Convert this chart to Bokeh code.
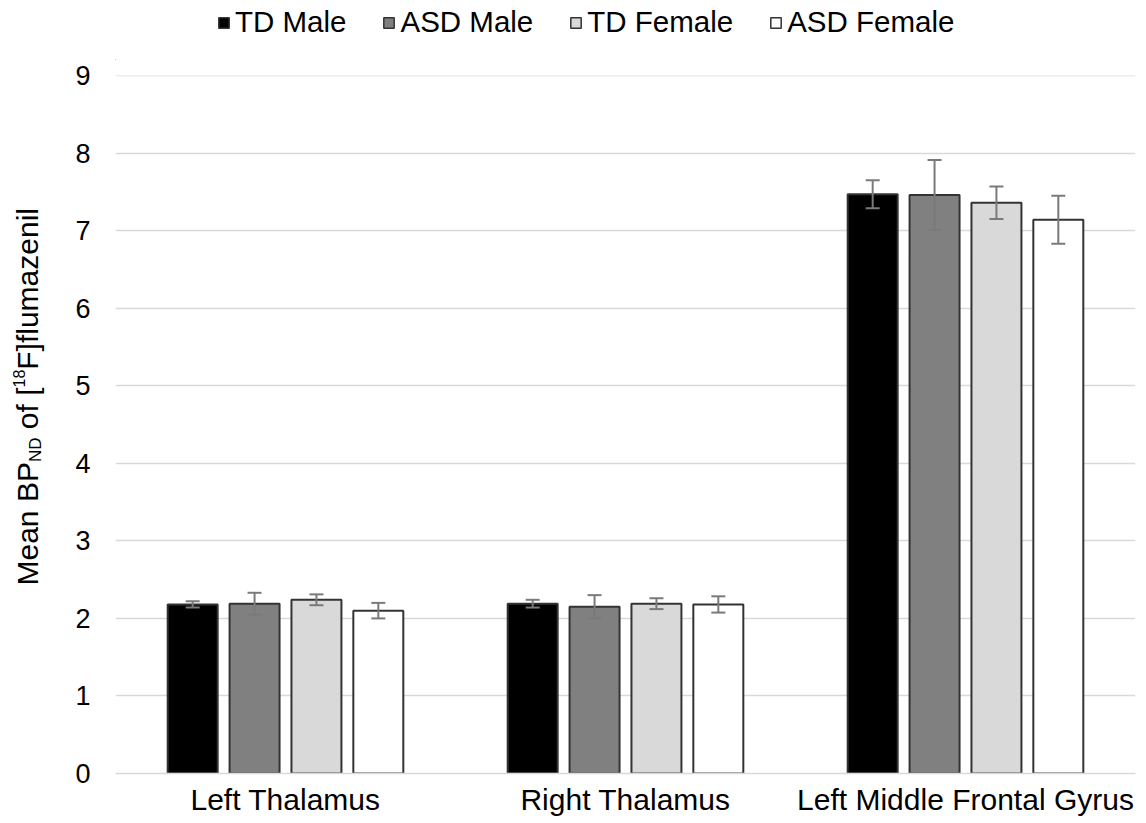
import math
from bokeh.plotting import figure
from bokeh.layouts import column, row
from bokeh.models import (ColumnDataSource, FactorRange, Range1d, Whisker, Legend,
                          LegendItem, Label, FixedTicker)
from bokeh.transform import dodge
from bokeh.embed import file_html
from bokeh.resources import INLINE

regions = ["Left Thalamus", "Right Thalamus", "Left Middle Frontal Gyrus"]
groups = ["TD Male", "ASD Male", "TD Female", "ASD Female"]
td_male = [2.18, 2.19, 7.47]
td_male_err = [0.04, 0.05, 0.18]
asd_male = [2.19, 2.15, 7.46]
asd_male_err = [0.14, 0.15, 0.45]
td_female = [2.24, 2.19, 7.36]
td_female_err = [0.07, 0.07, 0.21]
asd_female = [2.10, 2.18, 7.14]
asd_female_err = [0.10, 0.105, 0.31]
y_ticks = [0, 1, 2, 3, 4, 5, 6, 7, 8, 9]

series = [td_male, asd_male, td_female, asd_female]
errors = [td_male_err, asd_male_err, td_female_err, asd_female_err]
fills = ["#000000", "#808080", "#d9d9d9", "#ffffff"]
offsets = [-0.273, -0.091, 0.091, 0.273]

FONT = "Liberation Sans"
FW, FH = 1020, 698
Y_END = 9.001
PAGE_H = 823
LEFT_W = 60          # strip holding the y-axis title
TOP_H = 60           # strip holding the legend
FRAME_LEFT, FRAME_TOP = 115, 75
RIGHT = 8
RIGHT_W = FRAME_LEFT - LEFT_W + FW + RIGHT

def blank(width, height, xr, yr):
    f = figure(width=width, height=height, x_range=xr, y_range=yr,
               x_axis_location=None, y_axis_location=None, min_border=0,
               toolbar_location=None, output_backend="svg")
    f.grid.visible = False
    f.outline_line_color = None
    return f

# ---------- main chart ----------
p = figure(x_range=FactorRange(factors=regions), y_range=Range1d(0, Y_END),
           frame_width=FW, frame_height=FH, output_backend="svg",
           toolbar_location=None,
           min_border_left=FRAME_LEFT - LEFT_W, min_border_right=RIGHT,
           min_border_top=FRAME_TOP - TOP_H, min_border_bottom=36)
p.outline_line_color = None
p.background_fill_color = "white"

for name, vals, errs, col, off in zip(groups, series, errors, fills, offsets):
    src = ColumnDataSource(dict(
        region=regions, top=vals,
        upper=[v + e for v, e in zip(vals, errs)],
        lower=[v - e for v, e in zip(vals, errs)]))
    p.vbar(x=dodge("region", off, range=p.x_range), top="top", width=0.147,
           source=src, fill_color=col, line_color="#333333", line_width=2)
    w = Whisker(base=dodge("region", off, range=p.x_range), upper="upper",
                lower="lower", source=src, line_color="#7a7a7a", line_width=2,
                level="annotation")
    for h in (w.upper_head, w.lower_head):
        h.size = 14
        h.line_color = "#7a7a7a"
        h.line_width = 2
    p.add_layout(w)

p.xgrid.grid_line_color = None
p.ygrid.grid_line_color = "#d9d9d9"
p.ygrid.grid_line_width = 1.5
p.yaxis.ticker = FixedTicker(ticks=y_ticks)

p.yaxis.axis_line_color = None
p.yaxis.major_tick_line_color = None
p.yaxis.minor_tick_line_color = None
p.yaxis.major_tick_out = 0
p.yaxis.major_tick_in = 0
p.yaxis.major_label_text_font = FONT
p.yaxis.major_label_text_font_size = "27px"
p.yaxis.major_label_text_color = "#000000"
p.yaxis.major_label_standoff = 25

p.xaxis.axis_line_color = "#d9d9d9"
p.xaxis.axis_line_width = 1.5
p.xaxis.major_tick_line_color = None
p.xaxis.minor_tick_line_color = None
p.xaxis.major_tick_out = 0
p.xaxis.major_tick_in = 0
p.xaxis.major_label_text_font = FONT
p.xaxis.major_label_text_font_size = "30px"
p.xaxis.major_label_text_color = "#000000"
p.xaxis.major_label_standoff = 9

# ---------- legend strip on top ----------
top = blank(RIGHT_W, TOP_H, Range1d(LEFT_W, LEFT_W + RIGHT_W), Range1d(-TOP_H, 0))
items = []
for name, col in zip(groups, fills):
    # legend-only renderer, kept outside the visible ranges
    r = top.vbar(x=[-1000], top=[-1000], bottom=[-1001], width=1, fill_color=col,
                 line_color="#333333", line_width=1.5)
    items.append(LegendItem(label=name, renderers=[r]))
legend = Legend(items=items, orientation="horizontal",
                location=(217 - FRAME_LEFT, TOP_H - 39),
                glyph_width=13, glyph_height=13, label_standoff=5, spacing=36,
                padding=0, margin=0, border_line_color=None,
                background_fill_alpha=0,
                label_text_font=FONT, label_text_font_size="29.5px",
                label_text_color="#000000", label_height=28)
top.add_layout(legend, "center")

# ---------- y-axis title strip on the left (page pixel coordinates) ----------
left = blank(LEFT_W, PAGE_H, Range1d(0, LEFT_W), Range1d(-PAGE_H, 0))
W = {" ": 278, "M": 833, "e": 556, "a": 556, "n": 556, "B": 667, "P": 667,
     "N": 722, "D": 722, "o": 556, "f": 278, "[": 278, "1": 556, "8": 556,
     "F": 611, "]": 278, "l": 222, "u": 556, "m": 833, "z": 500, "i": 222}

def tw(s, size):
    return sum(W[c] for c in s) / 1000.0 * size

big = 30
# (text, font size, baseline x in px, extra gap before it in px)
pieces = [("Mean BP", big, 27, 0.0), ("ND", 17, 35, 0.0),
          ("of [", big, 27, tw(" ", big)), ("18", 16, 18, 0.0),
          ("F]flumazenil", big, 27, 0.0)]
pos = 585.0  # page y where the title starts (bottom end)
for txt, size, bx, gap in pieces:
    pos -= gap
    left.add_layout(Label(x=bx, y=-pos, x_units="data", y_units="data",
                          text=txt, angle=math.pi / 2, text_font=FONT,
                          text_font_size=f"{size}px", text_color="#000000",
                          text_align="left", text_baseline="alphabetic"))
    pos -= tw(txt, size)

layout = row(left, column(top, p, spacing=0), spacing=0)
open("out.html", "w").write(file_html(layout, INLINE))
